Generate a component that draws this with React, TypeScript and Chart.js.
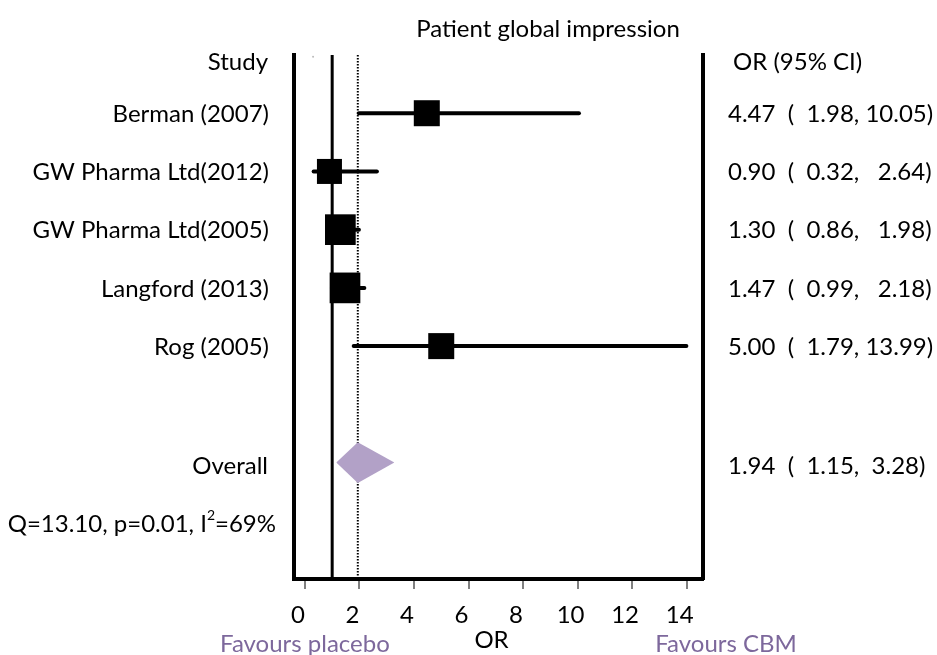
import React, { useEffect, useRef } from "react";
import { Chart, registerables } from "chart.js";

Chart.register(...registerables);

// ---- data ----
const studies = ["Berman (2007)", "GW Pharma Ltd(2012)", "GW Pharma Ltd(2005)", "Langford (2013)", "Rog (2005)"];
const oddsRatios = [4.47, 0.9, 1.3, 1.47, 5.0];
const lowerCI = [1.98, 0.32, 0.86, 0.99, 1.79];
const upperCI = [10.05, 2.64, 1.98, 2.18, 13.99];
const weights = [17.5, 16.2, 24.4, 24.4, 17.5];
const studyRows = [1, 2, 3, 4, 5];
const overallLabel = "Overall";
const overallOR = 1.94;
const overallLower = 1.15;
const overallUpper = 3.28;
const overallRow = 7;
const statQ = "13.10";
const statP = "0.01";
const statI2 = "69%";
const statsRow = 8;
const xTicks = [0, 2, 4, 6, 8, 10, 12, 14];
const titleText = "Patient global impression";
const studyHeader = "Study";
const ciHeader = "OR (95% CI)";
const axisTitle = "OR";
const leftNote = "Favours placebo";
const rightNote = "Favours CBM";

// ---- style ----
const FONT = 'Lato, "Open Sans", sans-serif';
const FS = 24;
const PURPLE_TEXT = "#7D689C";
const DIAMOND = "#B2A1C7";

const fmt = (v: number) => v.toFixed(2);
const ciText = (i: number) =>
  `${fmt(oddsRatios[i])}  (  ${fmt(lowerCI[i])}, ${fmt(upperCI[i]).padStart(5, " ").replace(/^ /, "  ")})`;

const textPlugin = {
  id: "forestText",
  afterDraw(chart: any) {
    const { ctx, chartArea } = chart;
    const x = chart.scales.x;
    const y = chart.scales.y;
    ctx.save();
    ctx.font = `${FS}px ${FONT}`;
    ctx.fillStyle = "#000";
    ctx.textBaseline = "middle";

    // title
    ctx.textAlign = "center";
    ctx.fillText(titleText, chartArea.left + 254, 29);

    // headers
    const hy = y.getPixelForValue(0) + 7;
    ctx.textAlign = "right";
    ctx.fillText(studyHeader, chartArea.left - 26, hy);
    ctx.textAlign = "left";
    ctx.fillText(ciHeader, chartArea.right + 30, hy);

    // study rows
    studies.forEach((s, i) => {
      const py = y.getPixelForValue(studyRows[i]) + 1;
      ctx.textAlign = "right";
      ctx.fillText(s, chartArea.left - 25, py);
      ctx.textAlign = "left";
      ctx.fillText(ciText(i), chartArea.right + 25, py);
    });

    // overall
    const oy = y.getPixelForValue(overallRow) + 4;
    ctx.textAlign = "right";
    ctx.fillText(overallLabel, chartArea.left - 26, oy);
    ctx.textAlign = "left";
    const oText = `${fmt(overallOR)}  (  ${fmt(overallLower)},  ${fmt(overallUpper)})`;
    ctx.fillText(oText, chartArea.right + 25, oy);

    // heterogeneity with superscript
    const sy = y.getPixelForValue(statsRow) + 3;
    const p1 = `Q=${statQ}, p=${statP}, I`;
    const p2 = "2";
    const p3 = `=${statI2}`;
    const supFont = `${Math.round(FS * 0.6)}px ${FONT}`;
    const w1 = ctx.measureText(p1).width;
    const w3 = ctx.measureText(p3).width;
    ctx.font = supFont;
    const w2 = ctx.measureText(p2).width;
    let sx = chartArea.left - 18 - (w1 + w2 + w3);
    ctx.font = `${FS}px ${FONT}`;
    ctx.textAlign = "left";
    ctx.fillText(p1, sx, sy);
    sx += w1;
    ctx.font = supFont;
    ctx.fillText(p2, sx, sy - 8);
    sx += w2;
    ctx.font = `${FS}px ${FONT}`;
    ctx.fillText(p3, sx, sy);

    // bottom notes
    ctx.textAlign = "center";
    ctx.fillText(axisTitle, (chartArea.left + chartArea.right) / 2 - 7, chartArea.bottom + 61);
    ctx.fillStyle = PURPLE_TEXT;
    ctx.fillText(leftNote, x.getPixelForValue(0), chartArea.bottom + 65);
    ctx.fillText(rightNote, chartArea.right + 23, chartArea.bottom + 65);
    ctx.restore();
  },
};

export default function App() {
  const ref = useRef<HTMLCanvasElement | null>(null);

  useEffect(() => {
    if (!ref.current) return;
    const maxW = Math.max(...weights);
    const squareRadius = weights.map((w) => (30.7 * Math.sqrt(w / maxW)) / Math.SQRT2);
    const halfH = 0.35;

    const datasets: any[] = [
      {
        type: "scatter",
        label: "studies",
        data: oddsRatios.map((v, i) => ({ x: v, y: studyRows[i] })),
        pointStyle: "rect",
        pointRadius: squareRadius,
        backgroundColor: "#000",
        borderColor: "#000",
        borderWidth: 0,
        clip: false,
      },
      {
        type: "line",
        label: "diamondTop",
        data: [
          { x: overallLower, y: overallRow },
          { x: overallOR, y: overallRow - halfH },
          { x: overallUpper, y: overallRow },
        ],
        borderWidth: 0,
        borderColor: DIAMOND,
        backgroundColor: DIAMOND,
        pointRadius: 0,
        fill: "+1",
        tension: 0,
      },
      {
        type: "line",
        label: "diamondBottom",
        data: [
          { x: overallLower, y: overallRow },
          { x: overallOR, y: overallRow + halfH },
          { x: overallUpper, y: overallRow },
        ],
        borderWidth: 0,
        borderColor: DIAMOND,
        backgroundColor: DIAMOND,
        pointRadius: 0,
        fill: false,
        tension: 0,
      },
      ...studies.map((s, i) => ({
        type: "line",
        label: "ci " + s,
        data: [
          { x: lowerCI[i], y: studyRows[i] },
          { x: upperCI[i], y: studyRows[i] },
        ],
        borderColor: "#000",
        borderWidth: 4,
        borderCapStyle: "round",
        pointRadius: 0,
        fill: false,
      })),
      {
        type: "line",
        label: "overall ref",
        data: [
          { x: overallOR, y: 0 },
          { x: overallOR, y: 9 },
        ],
        borderColor: "#000",
        borderWidth: 2,
        borderDash: [1.5, 1.5],
        pointRadius: 0,
        fill: false,
      },
      {
        type: "line",
        label: "null line",
        data: [
          { x: 1, y: 0 },
          { x: 1, y: 9 },
        ],
        borderColor: "#000",
        borderWidth: 3,
        pointRadius: 0,
        fill: false,
      },
      {
        type: "scatter",
        label: "marker",
        data: [{ x: 0.3, y: 0.03 }],
        pointRadius: 1,
        backgroundColor: "#bbbbbb",
        borderWidth: 0,
      },
    ];

    const chart = new Chart(ref.current, {
      type: "scatter",
      data: { datasets },
      options: {
        animation: false,
        responsive: true,
        maintainAspectRatio: false,
        events: [],
        layout: { padding: { left: 294, right: 234, top: 55, bottom: 0 } },
        plugins: { legend: { display: false }, tooltip: { enabled: false }, title: { display: false } },
        scales: {
          x: {
            type: "linear",
            min: -0.4,
            max: 14.6,
            afterBuildTicks: (s: any) => {
              s.ticks = xTicks.map((v) => ({ value: v }));
            },
            afterFit: (s: any) => {
              s.height = 76;
            },
            ticks: {
              color: "#000",
              font: { family: FONT, size: FS },
              labelOffset: -7,
              padding: 12,
              maxRotation: 0,
              autoSkip: false,
            },
            grid: {
              display: true,
              drawOnChartArea: false,
              drawTicks: true,
              tickLength: 10,
              color: "#808080",
              lineWidth: 2,
            },
            border: { display: true, color: "#000", width: 4 },
          },
          y: {
            type: "linear",
            position: "left",
            min: 0,
            max: 9,
            reverse: true,
            ticks: { display: false },
            grid: { display: false, drawTicks: false },
            border: { display: true, color: "#000", width: 4 },
            afterFit: (s: any) => {
              s.width = 0;
            },
          },
          y2: {
            type: "linear",
            position: "right",
            min: 0,
            max: 9,
            ticks: { display: false },
            grid: { display: false, drawTicks: false },
            border: { display: true, color: "#000", width: 4 },
            afterFit: (s: any) => {
              s.width = 0;
            },
          },
        },
      },
      plugins: [textPlugin],
    });
    return () => chart.destroy();
  }, []);

  return (
    <div style={{ position: "absolute", left: 0, top: 0, width: 937, height: 655, background: "#fff" }}>
      <canvas ref={ref} />
    </div>
  );
}
